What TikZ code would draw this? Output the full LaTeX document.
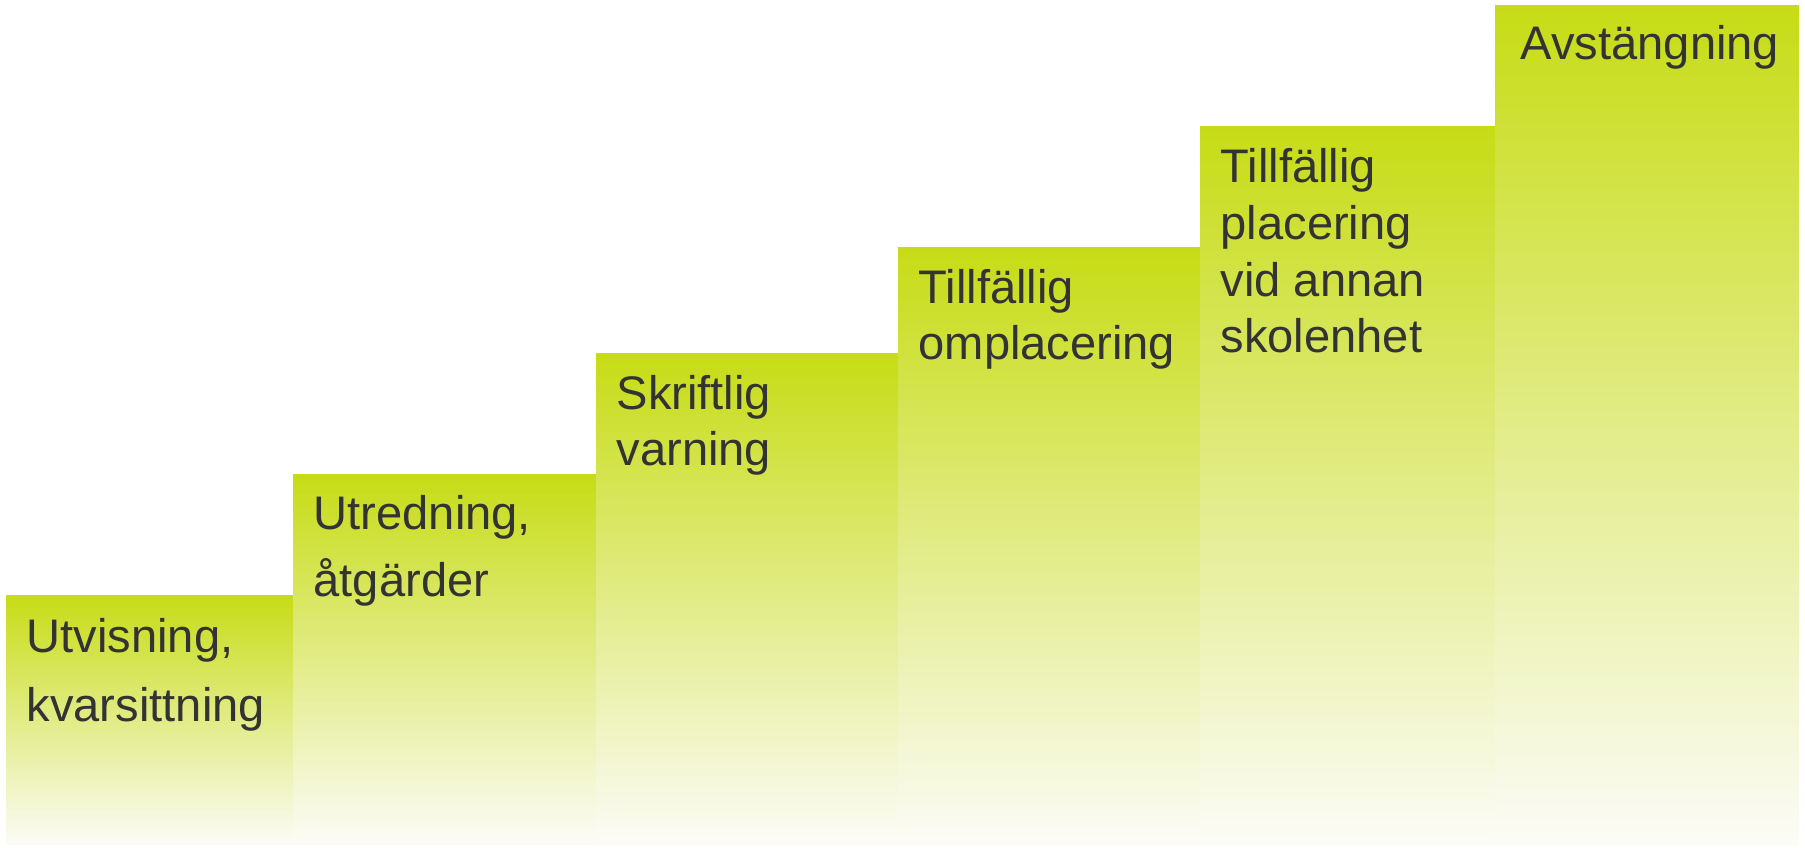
\documentclass[tikz,border=0pt]{standalone}
\usepackage{fontspec}
\setmainfont{Liberation Sans}
\usetikzlibrary{positioning}
\definecolor{stairtop}{RGB}{199,220,22}
\definecolor{stairmid}{RGB}{226,234,168}
\definecolor{stairbot}{RGB}{252,252,248}
\definecolor{stairink}{RGB}{51,51,51}
\tikzstyle{stair} = [
    rectangle, inner sep=0pt, outer sep=0pt, anchor=south west,
    top color=stairtop, middle color=stairmid, bottom color=stairbot
]
\tikzstyle{stairtext} = [
    anchor=base west, inner sep=0pt, align=left, text=stairink,
    font=\fontsize{13.4pt}{16.2pt}\selectfont
]

\begin{document}
\begin{tikzpicture}[x=0.1mm, y=0.1mm]

\useasboundingbox (0,0) rectangle (1805,848);

% Trappsteg (vänster till höger)
\node (s1) [stair, minimum width=28.7mm, minimum height=24.9mm] at (6,3) {};
\node (s2) [stair, minimum width=30.3mm, minimum height=37.0mm, right=0mm of s1.south east, anchor=south west] {};
\node (s3) [stair, minimum width=30.2mm, minimum height=49.1mm, right=0mm of s2.south east, anchor=south west] {};
\node (s4) [stair, minimum width=30.2mm, minimum height=59.7mm, right=0mm of s3.south east, anchor=south west] {};
\node (s5) [stair, minimum width=29.5mm, minimum height=71.8mm, right=0mm of s4.south east, anchor=south west] {};
\node (s6) [stair, minimum width=30.4mm, minimum height=83.9mm, right=0mm of s5.south east, anchor=south west] {};

% Texter (base = sista raden)
\node (t1) [stairtext, font=\fontsize{13.4pt}{19.9pt}\selectfont] at ([xshift=2.0mm, yshift=-12.6mm]s1.north west) {Utvisning, \\ kvarsittning};
\node (t2) [stairtext, font=\fontsize{13.4pt}{19.1pt}\selectfont] at ([xshift=2.0mm, yshift=-12.2mm]s2.north west) {Utredning, \\ åtgärder};
\node (t3) [stairtext] at ([xshift=2.0mm, yshift=-11.2mm]s3.north west) {Skriftlig \\ varning};
\node (t4) [stairtext] at ([xshift=2.0mm, yshift=-11.2mm]s4.north west) {Tillfällig \\ omplacering};
\node (t5) [stairtext] at ([xshift=2.0mm, yshift=-22.6mm]s5.north west) {Tillfällig \\ placering \\ vid annan \\ skolenhet};
\node (t6) [stairtext] at ([xshift=2.5mm, yshift=-5.4mm]s6.north west) {Avstängning};

\end{tikzpicture}
\end{document}
